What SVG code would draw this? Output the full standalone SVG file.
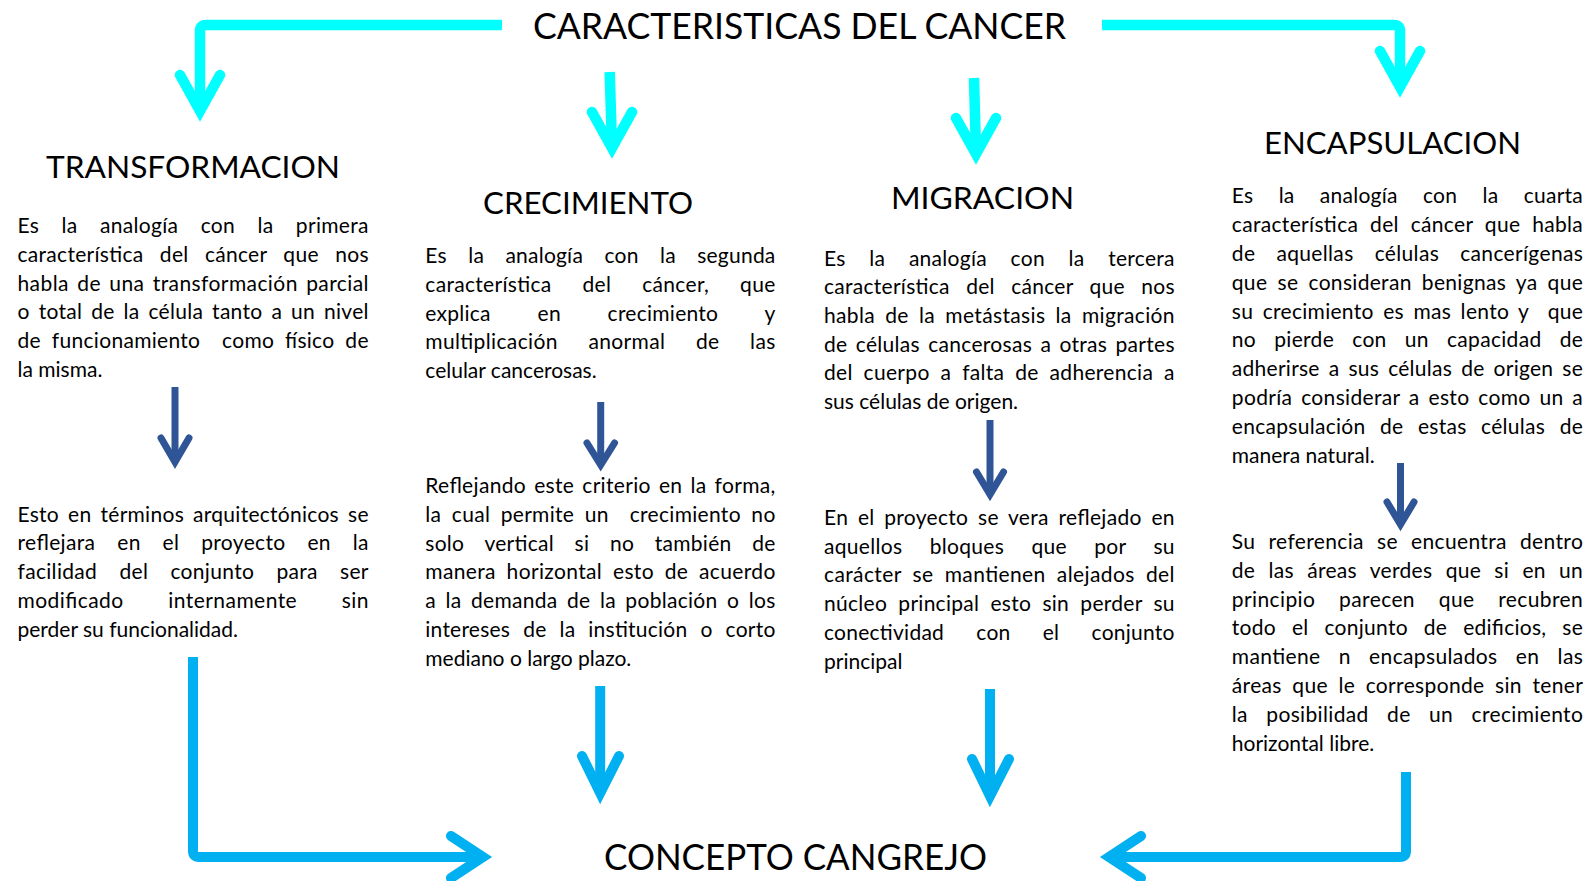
<svg xmlns="http://www.w3.org/2000/svg" width="1596" height="881" viewBox="0 0 1596 881">
<style>
text{font-family:Lato,'Liberation Sans',sans-serif;fill:#000}
.b{font-size:21px}
.h{font-size:31px}
.t{font-size:36px}
.cy{stroke:#00FFFF;stroke-width:10.5;fill:none;stroke-linejoin:round}
.lb{stroke:#00B0F0;stroke-width:10;fill:none;stroke-linejoin:round}
.db{stroke:#2F5597;stroke-width:7;fill:none}
.hd{stroke-linecap:round;stroke-linejoin:miter;stroke-miterlimit:10}
</style>
<rect width="1596" height="881" fill="#fff"/>
<g id="connectors">
<path class="cy" d="M502,25 H206 Q200,25 200,31 V110"/>
<polyline class="cy hd" points="180,75 200,111 220,75"/>
<path class="cy" d="M1102,25 H1394 Q1400,25 1400,31 V86"/>
<polyline class="cy hd" points="1380,51 1400,87 1420,51"/>
<path class="cy" d="M609.7,72 L612,147"/>
<polyline class="cy hd" points="592,112 612,148 632,112"/>
<path class="cy" d="M974,78 L976,153"/>
<polyline class="cy hd" points="956,118 976,154 996,118"/>
<path class="db" d="M175,387 V461"/>
<polyline class="db hd" points="161,438 175,462 189,438"/>
<path class="db" d="M600.7,402 V464"/>
<polyline class="db hd" points="587,443 600.7,465 614.5,443"/>
<path class="db" d="M990,420 V493"/>
<polyline class="db hd" points="976.5,472 990,494.5 1003.5,472"/>
<path class="db" d="M1400.5,463 V523"/>
<polyline class="db hd" points="1387,502 1400.5,524.5 1414,502"/>
<path class="lb" d="M600.2,686 V792"/>
<polyline class="lb hd" points="582,756 600.2,793 619,756"/>
<path class="lb" d="M990,689 V795"/>
<polyline class="lb hd" points="972,759 990,796 1009,759"/>
<path class="lb" d="M193,657 V851 Q193,857 199,857 H482"/>
<polyline class="lb hd" points="451,836 483,857 451,878"/>
<path class="lb" d="M1406,772 V851 Q1406,857 1400,857 H1110"/>
<polyline class="lb hd" points="1141,836 1109,857 1141,878"/>
</g>
<g id="title">
<text class="t" x="533" y="38.5" textLength="533" lengthAdjust="spacingAndGlyphs">CARACTERISTICAS DEL CANCER</text>
</g>
<g id="transformacion">
<text class="h" x="46" y="178" textLength="294" lengthAdjust="spacingAndGlyphs">TRANSFORMACION</text>
<text class="b" x="17.5" y="233.3" textLength="351" lengthAdjust="spacing" word-spacing="16.7">Es la analogía con la primera</text>
<text class="b" x="17.5" y="262" textLength="351" lengthAdjust="spacing" word-spacing="10.7">característica del cáncer que nos</text>
<text class="b" x="17.5" y="290.7" textLength="351" lengthAdjust="spacing" word-spacing="2.6">habla de una transformación parcial</text>
<text class="b" x="17.5" y="319.4" textLength="351" lengthAdjust="spacing" word-spacing="3.3">o total de la célula tanto a un nivel</text>
<text class="b" x="17.5" y="348.1" textLength="351" lengthAdjust="spacing" word-spacing="5.2" xml:space="preserve">de funcionamiento  como físico de</text>
<text class="b" x="17.5" y="376.8">la misma.</text>
<text class="b" x="17.5" y="521.7" textLength="351" lengthAdjust="spacing" word-spacing="3.4">Esto en términos arquitectónicos se</text>
<text class="b" x="17.5" y="550.4" textLength="351" lengthAdjust="spacing" word-spacing="16.1">reflejara en el proyecto en la</text>
<text class="b" x="17.5" y="579.1" textLength="351" lengthAdjust="spacing" word-spacing="16.5">facilidad del conjunto para ser</text>
<text class="b" x="17.5" y="607.8" textLength="351" lengthAdjust="spacing" word-spacing="38.8">modificado internamente sin</text>
<text class="b" x="17.5" y="636.5">perder su funcionalidad.</text>
</g>
<g id="crecimiento">
<text class="h" x="483" y="213.5" textLength="210" lengthAdjust="spacingAndGlyphs">CRECIMIENTO</text>
<text class="b" x="425.3" y="263.3" textLength="350" lengthAdjust="spacing" word-spacing="15.8">Es la analogía con la segunda</text>
<text class="b" x="425.3" y="292" textLength="350" lengthAdjust="spacing" word-spacing="25.3">característica del cáncer, que</text>
<text class="b" x="425.3" y="320.7" textLength="350" lengthAdjust="spacing" word-spacing="41.1">explica en crecimiento y</text>
<text class="b" x="425.3" y="349.4" textLength="350" lengthAdjust="spacing" word-spacing="24.9">multiplicación anormal de las</text>
<text class="b" x="425.3" y="378.1">celular cancerosas.</text>
<text class="b" x="425.3" y="493.3" textLength="350" lengthAdjust="spacing" word-spacing="2.4">Reflejando este criterio en la forma,</text>
<text class="b" x="425.3" y="522" textLength="350" lengthAdjust="spacing" word-spacing="4.8" xml:space="preserve">la cual permite un  crecimiento no</text>
<text class="b" x="425.3" y="550.7" textLength="350" lengthAdjust="spacing" word-spacing="15.1">solo vertical si no también de</text>
<text class="b" x="425.3" y="579.4" textLength="350" lengthAdjust="spacing" word-spacing="5">manera horizontal esto de acuerdo</text>
<text class="b" x="425.3" y="608.1" textLength="350" lengthAdjust="spacing" word-spacing="3.8">a la demanda de la población o los</text>
<text class="b" x="425.3" y="636.8" textLength="350" lengthAdjust="spacing" word-spacing="7.4">intereses de la institución o corto</text>
<text class="b" x="425.3" y="665.5">mediano o largo plazo.</text>
</g>
<g id="migracion">
<text class="h" x="891" y="208.5" textLength="183" lengthAdjust="spacingAndGlyphs">MIGRACION</text>
<text class="b" x="824" y="265.5" textLength="350.5" lengthAdjust="spacing" word-spacing="18">Es la analogía con la tercera</text>
<text class="b" x="824" y="294.2" textLength="350.5" lengthAdjust="spacing" word-spacing="10.7">característica del cáncer que nos</text>
<text class="b" x="824" y="322.9" textLength="350.5" lengthAdjust="spacing" word-spacing="4.5">habla de la metástasis la migración</text>
<text class="b" x="824" y="351.6" textLength="350.5" lengthAdjust="spacing" word-spacing="2.7">de células cancerosas a otras partes</text>
<text class="b" x="824" y="380.3" textLength="350.5" lengthAdjust="spacing" word-spacing="5.2">del cuerpo a falta de adherencia a</text>
<text class="b" x="824" y="409">sus células de origen.</text>
<text class="b" x="824" y="525" textLength="350.5" lengthAdjust="spacing" word-spacing="4.1">En el proyecto se vera reflejado en</text>
<text class="b" x="824" y="553.7" textLength="350.5" lengthAdjust="spacing" word-spacing="21.7">aquellos bloques que por su</text>
<text class="b" x="824" y="582.4" textLength="350.5" lengthAdjust="spacing" word-spacing="5.5">carácter se mantienen alejados del</text>
<text class="b" x="824" y="611.1" textLength="350.5" lengthAdjust="spacing" word-spacing="5.6">núcleo principal esto sin perder su</text>
<text class="b" x="824" y="639.8" textLength="350.5" lengthAdjust="spacing" word-spacing="26.6">conectividad con el conjunto</text>
<text class="b" x="824" y="668.5">principal</text>
</g>
<g id="encapsulacion">
<text class="h" x="1264" y="153.5" textLength="257" lengthAdjust="spacingAndGlyphs">ENCAPSULACION</text>
<text class="b" x="1231.8" y="203.3" textLength="351" lengthAdjust="spacing" word-spacing="19.6">Es la analogía con la cuarta</text>
<text class="b" x="1231.8" y="232.1" textLength="351" lengthAdjust="spacing" word-spacing="6.1">característica del cáncer que habla</text>
<text class="b" x="1231.8" y="260.9" textLength="351" lengthAdjust="spacing" word-spacing="15.4">de aquellas células cancerígenas</text>
<text class="b" x="1231.8" y="289.7" textLength="351" lengthAdjust="spacing" word-spacing="4.5">que se consideran benignas ya que</text>
<text class="b" x="1231.8" y="318.5" textLength="351" lengthAdjust="spacing" word-spacing="3.8" xml:space="preserve">su crecimiento es mas lento y  que</text>
<text class="b" x="1231.8" y="347.3" textLength="351" lengthAdjust="spacing" word-spacing="12.5">no pierde con un capacidad de</text>
<text class="b" x="1231.8" y="376.1" textLength="351" lengthAdjust="spacing" word-spacing="3.35">adherirse a sus células de origen se</text>
<text class="b" x="1231.8" y="404.9" textLength="351" lengthAdjust="spacing" word-spacing="3.2">podría considerar a esto como un a</text>
<text class="b" x="1231.8" y="433.7" textLength="351" lengthAdjust="spacing" word-spacing="8.8">encapsulación de estas células de</text>
<text class="b" x="1231.8" y="462.5">manera natural.</text>
<text class="b" x="1231.8" y="548.9" textLength="351" lengthAdjust="spacing" word-spacing="7.4">Su referencia se encuentra dentro</text>
<text class="b" x="1231.8" y="577.7" textLength="351" lengthAdjust="spacing" word-spacing="7.6">de las áreas verdes que si en un</text>
<text class="b" x="1231.8" y="606.5" textLength="351" lengthAdjust="spacing" word-spacing="18">principio parecen que recubren</text>
<text class="b" x="1231.8" y="635.3" textLength="351" lengthAdjust="spacing" word-spacing="10.3">todo el conjunto de edificios, se</text>
<text class="b" x="1231.8" y="664.1" textLength="351" lengthAdjust="spacing" word-spacing="12.5">mantiene n encapsulados en las</text>
<text class="b" x="1231.8" y="692.9" textLength="351" lengthAdjust="spacing" word-spacing="4.8">áreas que le corresponde sin tener</text>
<text class="b" x="1231.8" y="721.7" textLength="351" lengthAdjust="spacing" word-spacing="12.7">la posibilidad de un crecimiento</text>
<text class="b" x="1231.8" y="750.5">horizontal libre.</text>
</g>
<g id="concepto">
<text class="t" x="604" y="870" textLength="383" lengthAdjust="spacingAndGlyphs">CONCEPTO CANGREJO</text>
</g>
</svg>
